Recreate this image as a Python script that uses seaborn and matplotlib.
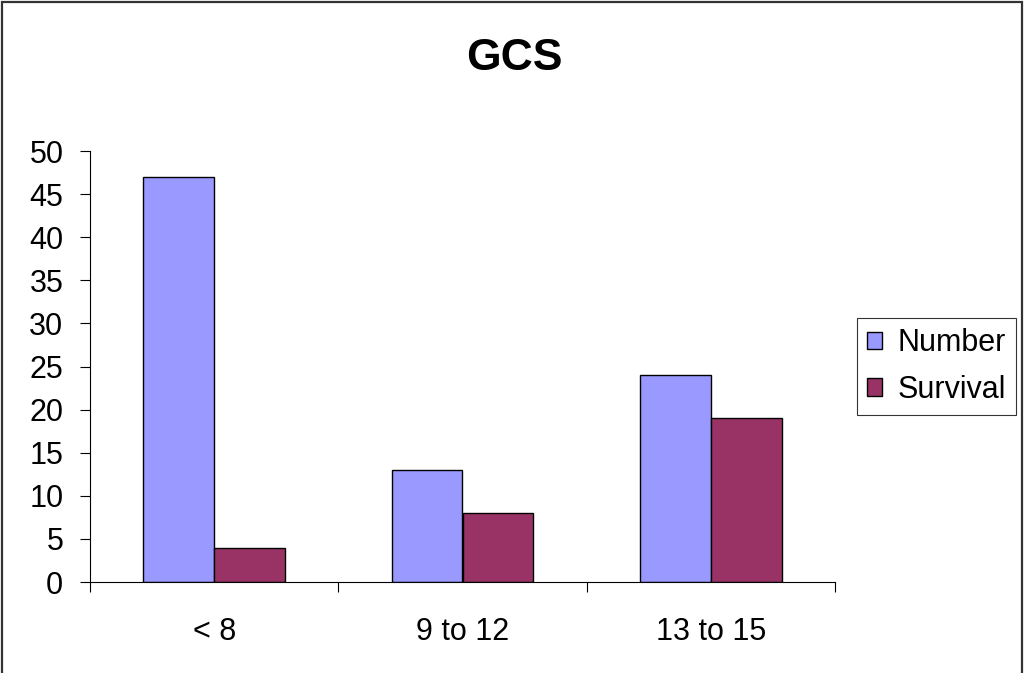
import matplotlib
matplotlib.use("Agg")
import matplotlib.pyplot as plt
from matplotlib.patches import Rectangle
import pandas as pd
import seaborn as sns

# Data
categories = ["< 8", "9 to 12", "13 to 15"]
number = [47, 13, 24]
survival = [4, 8, 19]
series_names = ["Number", "Survival"]
y_ticks = [0, 5, 10, 15, 20, 25, 30, 35, 40, 45, 50]

df = pd.DataFrame({
    "GCS": categories * 2,
    "value": number + survival,
    "series": [series_names[0]] * len(categories) + [series_names[1]] * len(categories),
})

sns.set_style("white")
plt.rcParams["font.family"] = ["Liberation Sans", "DejaVu Sans"]
plt.rcParams["text.color"] = "black"
plt.rcParams["xtick.color"] = "black"
plt.rcParams["ytick.color"] = "black"
plt.rcParams["axes.labelcolor"] = "black"

W, H = 1024, 673
fig = plt.figure(figsize=(W / 100, H / 100), dpi=100)
ax = fig.add_axes([90 / W, (H - 582) / H, 745 / W, 431 / H])

sns.barplot(
    data=df, x="GCS", y="value", hue="series", order=categories,
    hue_order=series_names, palette=["#9999FF", "#993366"],
    width=2 / 3.5, dodge=True, edgecolor="black", linewidth=1.0,
    saturation=1, ax=ax, legend=True,
)

ax.set_xlim(-0.5, len(categories) - 0.5)
ax.set_ylim(0, 50)
ax.set_yticks(y_ticks)
ax.set_xlabel("")
ax.set_ylabel("")

for side in ("top", "right"):
    ax.spines[side].set_visible(False)
for side in ("left", "bottom"):
    ax.spines[side].set_color("black")
    ax.spines[side].set_linewidth(0.8)

ax.tick_params(axis="y", which="major", direction="out", length=7.2, width=0.8,
               color="black", labelsize=22, pad=12, left=True)
ax.tick_params(axis="x", which="major", length=0, labelsize=22, pad=25)
ax.set_xticks([i - 0.5 for i in range(len(categories) + 1)], minor=True)
ax.tick_params(axis="x", which="minor", direction="out", length=7.2, width=0.8,
               color="black", bottom=True)

ax.set_title("")
fig.text(514 / W, 1 - 70 / H, "GCS", ha="center", va="baseline",
         fontsize=32, fontweight="bold")

leg = ax.legend(
    loc="upper left", bbox_to_anchor=(857 / W, 1 - 318 / H),
    bbox_transform=fig.transFigure, fontsize=22, frameon=True,
    fancybox=False, edgecolor="black", handlelength=0.5, handleheight=0.5,
    handletextpad=0.5, borderpad=0.33, labelspacing=0.55, borderaxespad=0,
)
leg.get_frame().set_linewidth(0.8)

# Chart-area border (open at the bottom edge)
fig.patches.append(Rectangle((2 / W, -0.05), 1020 / W, 1.05 - 2 / H,
                             transform=fig.transFigure, fill=False,
                             edgecolor="#333333", linewidth=1.6, clip_on=False))

fig.savefig("out.png", dpi=100)
